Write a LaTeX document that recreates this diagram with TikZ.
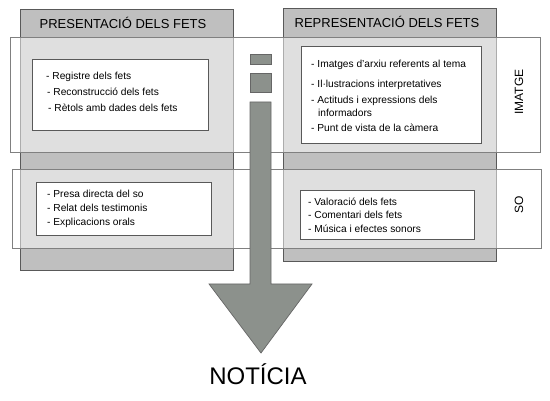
\documentclass[tikz,border=0pt]{standalone}
\usepackage{fontspec}
\setmainfont{Liberation Sans}
\begin{document}
\begin{tikzpicture}[x=1pt,y=-1pt,
  colfill/.style={fill=black!25, draw=black!65, line width=0.9pt},
  bandfill/.style={fill=white, fill opacity=0.5, draw=black!50, line width=0.8pt},
  itembox/.style={fill=white, draw=black!65, line width=0.9pt},
  arrowfill/.style={fill=arrgray, draw=black!60, line width=0.7pt},
  item/.style={anchor=base west, inner sep=0pt, font=\fontsize{10.2}{12}\selectfont},
  head/.style={inner sep=0pt, font=\fontsize{13}{15}\selectfont},
  side/.style={inner sep=0pt, font=\fontsize{12}{14}\selectfont, rotate=90}]
\definecolor{arrgray}{HTML}{8C918C}
\useasboundingbox (0,0) rectangle (550,401);
% columns
\path[colfill] (20,9) rectangle (233,270);
\path[colfill] (283,8) rectangle (496,261);
% bands
\path[bandfill] (10,37) rectangle (540,152);
\path[bandfill] (12,169) rectangle (541,248);
% inner boxes
\path[itembox] (32,59) rectangle (208,130);
\path[itembox] (301,46) rectangle (481,143);
\path[itembox] (36,182) rectangle (211,235);
\path[itembox] (300,190) rectangle (474,239);
% headers
\node[head] (hleft) at (123,22.5) {PRESENTACIÓ DELS FETS};
\node[head] (hright) at (387,22) {REPRESENTACIÓ DELS FETS};
% side labels
\node[side] (imatge) at (519,92) {IMATGE};
\node[side] (so) at (519,205) {SO};
% items
\node[item] (a1) at (46,80) {- Registre dels fets};
\node[item] (a2) at (47,96) {- Reconstrucció dels fets};
\node[item] (a3) at (48,112) {- Rètols amb dades dels fets};
\node[item] (b1) at (311,68) {- Imatges d'arxiu referents al tema};
\node[item] (b2) at (311,88) {- Il·lustracions interpretatives};
\node[item] (b3) at (311,104) {- Actituds i expressions dels};
\node[item] (b4) at (318,117) {informadors};
\node[item] (b5) at (311,132) {- Punt de vista de la càmera};
\node[item] (c1) at (47,198) {- Presa directa del so};
\node[item] (c2) at (47,212) {- Relat dels testimonis};
\node[item] (c3) at (47,226) {- Explicacions orals};
\node[item] (d1) at (308,206) {- Valoració dels fets};
\node[item] (d2) at (308,219) {- Comentari dels fets};
\node[item] (d3) at (308,233) {- Música i efectes sonors};
% small boxes and arrow
\path[arrowfill] (250,54) rectangle (271,64);
\path[arrowfill] (250,73) rectangle (271,92);
\path[arrowfill] (250,102) -- (271,102) -- (271,284) -- (312,284) -- (261,353) -- (209,284) -- (250,284) -- cycle;
\node[inner sep=0pt, font=\fontsize{24}{27}\selectfont] (noticia) at (258,374) {NOTÍCIA};
\end{tikzpicture}
\end{document}
